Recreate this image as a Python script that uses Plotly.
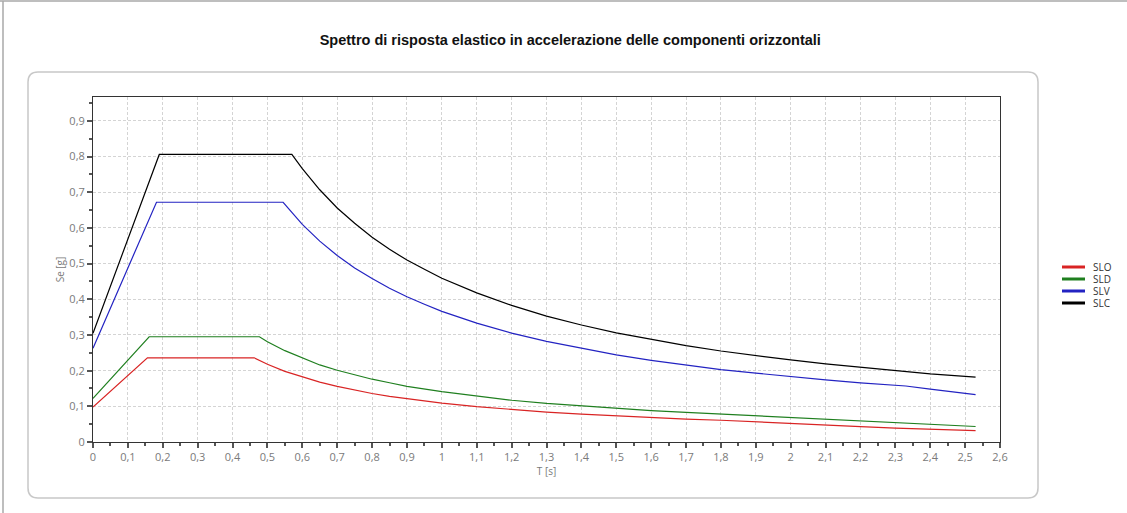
import plotly.graph_objects as go

# ---- data ----
T_SLO = [0, 0.156, 0.462, 0.5, 0.55, 0.6, 0.65, 0.7, 0.75, 0.8, 0.85, 0.9, 1.0, 1.1, 1.2, 1.3, 1.4,
         1.5, 1.6, 1.7, 1.8, 1.9, 2.0, 2.1, 2.2, 2.3, 2.4, 2.5, 2.53]
SE_SLO = [0.098, 0.236, 0.236, 0.218, 0.198, 0.182, 0.168, 0.156, 0.145, 0.136, 0.128, 0.121, 0.109,
          0.099, 0.091, 0.084, 0.078, 0.073, 0.068, 0.064, 0.061, 0.057, 0.052, 0.047, 0.043, 0.039,
          0.036, 0.033, 0.032]

T_SLD = [0, 0.161, 0.477, 0.5, 0.55, 0.6, 0.65, 0.7, 0.75, 0.8, 0.85, 0.9, 1.0, 1.1, 1.2, 1.3, 1.4,
         1.5, 1.6, 1.7, 1.8, 1.9, 1.98, 2.0, 2.1, 2.2, 2.3, 2.4, 2.5, 2.53]
SE_SLD = [0.122, 0.295, 0.295, 0.281, 0.256, 0.235, 0.216, 0.201, 0.188, 0.176, 0.166, 0.156, 0.141,
          0.128, 0.117, 0.108, 0.101, 0.094, 0.088, 0.083, 0.078, 0.074, 0.071, 0.070, 0.063, 0.058,
          0.053, 0.048, 0.045, 0.0435]

T_SLV = [0, 0.182, 0.545, 0.6, 0.65, 0.7, 0.75, 0.8, 0.85, 0.9, 0.95, 1.0, 1.1, 1.2, 1.3, 1.4, 1.5,
         1.6, 1.7, 1.8, 1.9, 2.0, 2.1, 2.2, 2.3, 2.33, 2.4, 2.5, 2.53]
SE_SLV = [0.263, 0.672, 0.672, 0.610, 0.563, 0.523, 0.488, 0.458, 0.431, 0.407, 0.386, 0.366, 0.333,
          0.305, 0.282, 0.262, 0.244, 0.229, 0.215, 0.203, 0.193, 0.183, 0.174, 0.166, 0.159, 0.157,
          0.148, 0.137, 0.133]

T_SLC = [0, 0.19, 0.57, 0.6, 0.65, 0.7, 0.75, 0.8, 0.85, 0.9, 0.95, 1.0, 1.1, 1.2, 1.3, 1.4, 1.5,
         1.6, 1.7, 1.8, 1.9, 2.0, 2.1, 2.2, 2.3, 2.4, 2.5, 2.53]
SE_SLC = [0.305, 0.806, 0.806, 0.766, 0.707, 0.656, 0.613, 0.574, 0.540, 0.510, 0.484, 0.459, 0.418,
          0.383, 0.353, 0.328, 0.306, 0.287, 0.270, 0.255, 0.242, 0.230, 0.219, 0.209, 0.200, 0.191,
          0.184, 0.182]

SERIES = [("SLO", T_SLO, SE_SLO, "#d92424"),
          ("SLD", T_SLD, SE_SLD, "#1f7f1f"),
          ("SLV", T_SLV, SE_SLV, "#2323c2"),
          ("SLC", T_SLC, SE_SLC, "#000000")]

TITLE = "Spettro di risposta elastico in accelerazione delle componenti orizzontali"
X_TITLE = "T [s]"
Y_TITLE = "Se [g]"

W, H = 1127, 513
L, R, Tm, B = 93, 127, 97, 71

fig = go.Figure()
for name, t, se, col in SERIES:
    fig.add_trace(go.Scatter(x=t, y=se, mode="lines", name=name, showlegend=False,
                             line=dict(color=col, width=1.2)))

TICKFONT = dict(family="Open Sans", size=11, color="#7a7a7a")
axis_common = dict(
    showline=True, linecolor="#333333", linewidth=1, mirror=True,
    ticks="outside", ticklen=5, tickcolor="#555555", tickwidth=1.5,
    tickfont=TICKFONT,
    showgrid=True, gridcolor="#d4d4d4", griddash="3px,2px", gridwidth=1,
    zeroline=False,
    minor=dict(dtick=0.05, ticks="outside", ticklen=3, tickcolor="#555555", showgrid=False),
)

fig.update_xaxes(range=[0, 2.6], dtick=0.1, tick0=0,
                 title=dict(text=X_TITLE, font=dict(family="Open Sans", size=10, color="#7a7a7a"), standoff=0),
                 **axis_common)
fig.update_yaxes(range=[0, 0.967], dtick=0.1, tick0=0,
                 title=dict(text=Y_TITLE, font=dict(family="Open Sans", size=10, color="#7a7a7a"), standoff=2),
                 **axis_common)

pw, ph = W - L - R, H - Tm - B
def px(x):
    return (x - L) / pw
def py(y):
    return (H - B - y) / ph

# rounded frame around the plot
x0, x1, y0, y1 = px(28), px(1038), py(498), py(72)
rx, ry = 10 / pw, 10 / ph
path = (f"M {x0+rx},{y0} L {x1-rx},{y0} Q {x1},{y0} {x1},{y0+ry} "
        f"L {x1},{y1-ry} Q {x1},{y1} {x1-rx},{y1} L {x0+rx},{y1} Q {x0},{y1} {x0},{y1-ry} "
        f"L {x0},{y0+ry} Q {x0},{y0} {x0+rx},{y0} Z")
fig.add_shape(type="path", path=path, xref="paper", yref="paper",
              line=dict(color="#c8c8c8", width=1.5), layer="below")
# outer page border (top and left)
fig.add_shape(type="line", xref="paper", yref="paper", x0=px(0), x1=px(W), y0=py(1), y1=py(1),
              line=dict(color="#a8a8a8", width=1.5))
fig.add_shape(type="line", xref="paper", yref="paper", x0=px(3), x1=px(3), y0=py(1), y1=py(H),
              line=dict(color="#a8a8a8", width=1.5))

# compact legend (12 px row spacing, thick swatches) like the reference
for i, (name, t, se, col) in enumerate(SERIES):
    yy = py(267 + 12 * i)
    fig.add_shape(type="line", xref="paper", yref="paper", x0=px(1062), x1=px(1085), y0=yy, y1=yy,
                  line=dict(color=col, width=3))
    fig.add_annotation(x=px(1091), y=yy, xref="paper", yref="paper", text=name, showarrow=False,
                       xanchor="left", yanchor="middle",
                       font=dict(family="Open Sans", size=10, color="#333333"))

fig.update_layout(
    width=W, height=H,
    margin=dict(l=L, r=R, t=Tm, b=B),
    paper_bgcolor="white", plot_bgcolor="white",
    separators=",.",
    title=dict(text=TITLE, x=0.506, xref="container", xanchor="center",
               y=1 - 40 / H, yref="container", yanchor="middle",
               font=dict(family="Liberation Sans", size=14.5, color="#111111", weight="bold")),
    showlegend=False,
)

fig.write_html("out.html")
